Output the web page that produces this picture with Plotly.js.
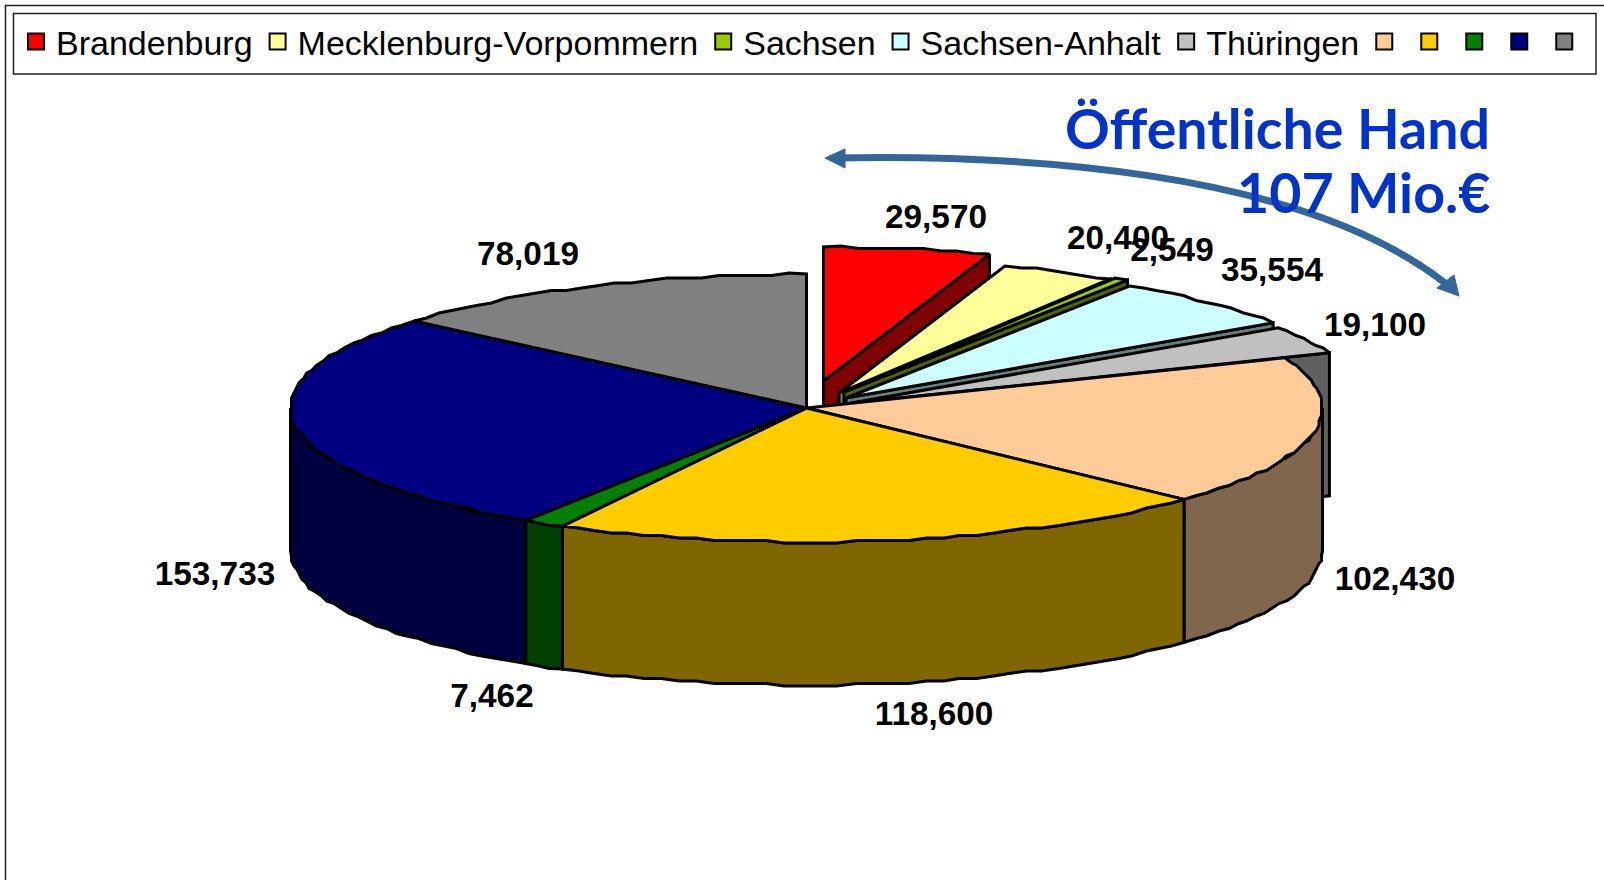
<!DOCTYPE html>
<html><head><meta charset="utf-8">
<script src="https://cdn.plot.ly/plotly-3.0.1.min.js"></script>
<style>html,body{margin:0;padding:0;background:#fff;overflow:hidden}#c{width:1604px;height:880px}</style>
</head><body><div id="c"></div>
<script>
const legendNames = ['Brandenburg','Mecklenburg-Vorpommern','Sachsen','Sachsen-Anhalt','Thüringen','','','','',''];
const values = [29570,20400,2549,35554,19100,102430,118600,7462,153733,78019];
const topColors = ['#FF0000','#FFFF99','#99CC00','#CCFFFF','#C0C0C0','#FFCC99','#FFCC00','#008000','#000080','#808080'];
const sideColors = ['#800000','#80804D','#4D6600','#668080','#606060','#80664D','#806600','#004000','#000040','#404040'];
// top-face centre of every slice (the first five are pulled out of the pie)
const centerX = [823.5,839,844,846,851,806.5,806.5,806.5,806.5,806.5];
const centerY = [381,393,392,398,403,408,408,408,408,408];
const labelX = [936,1118,1172,1272,1375,1395,934,492,215,528];
const labelY = [219.5,240.5,252.5,272.5,327.5,581.5,716.5,698.5,576.5,256.5];
const RX = 516, RY = 134, DEPTH = 143, STEP = 2, GRID = 2.5;
const noteLines = ['Öffentliche Hand','107 Mio.€'];

const total = values.reduce((a,b)=>a+b,0);
let acc = 0;
const starts = [], ends = [];
values.forEach(v=>{starts.push(acc/total*360); acc+=v; ends.push(acc/total*360);});
const rad = d=>d*Math.PI/180;
const snap = (v,base)=>base+Math.round((v-base)/GRID)*GRID;
function arc(i,a0,a1,dy){
  const n = Math.max(1,Math.ceil((a1-a0)/STEP)), xs=[], ys=[];
  for(let k=0;k<=n;k++){const a=rad(a0+(a1-a0)*k/n);
    const x=centerX[i]+RX*Math.sin(a), y=centerY[i]-RY*Math.cos(a)+dy;
    const edge=(k===0||k===n);
    xs.push(edge?x:snap(x,centerX[i])); ys.push(edge?y:snap(y,centerY[i]+dy));}
  return [xs,ys];
}
function poly(xs,ys,fill){
  return {type:'scatter',mode:'lines',x:xs.concat(xs[0]),y:ys.concat(ys[0]),fill:'toself',fillcolor:fill,
    line:{color:'#000',width:3,simplify:false},hoverinfo:'skip',showlegend:false};
}
const traces = [];
function topFace(i){
  const [ax,ay]=arc(i,starts[i],ends[i],0);
  traces.push(poly([centerX[i]].concat(ax),[centerY[i]].concat(ay),topColors[i]));
}
for(let i=0;i<5;i++){
  const [ex,ey]=arc(i,ends[i],ends[i],0);
  const tip=[centerX[i],centerY[i]];
  traces.push(poly([tip[0],ex[0],ex[0],tip[0]],[tip[1],ey[0],ey[0]+DEPTH,tip[1]+DEPTH],sideColors[i]));
  topFace(i);
}
for(let i=5;i<10;i++){
  const a0=Math.max(starts[i],90), a1=Math.min(ends[i],270);
  if(a1<=a0) continue;
  const [ax,ay]=arc(i,a0,a1,0), [bx,by]=arc(i,a0,a1,DEPTH);
  traces.push(poly(ax.concat(bx.reverse()),ay.concat(by.reverse()),sideColors[i]));
}
for(let i=5;i<10;i++) topFace(i);
traces.push({type:'scatter',mode:'text',x:labelX,y:labelY,text:values.map(v=>v.toLocaleString('en-US')),
  textposition:'middle center',textfont:{family:'Liberation Sans, Arial, sans-serif',size:33.3,color:'#000',weight:700},
  hoverinfo:'skip',showlegend:false});
legendNames.forEach((nm,i)=>traces.push({type:'scatter',mode:'markers',x:[null],y:[null],name:nm,
  marker:{symbol:'square',size:19,color:topColors[i],line:{color:'#000',width:2}},showlegend:true,hoverinfo:'skip'}));

const arrowColor='#336699';
const layout={
  width:1604,height:880,margin:{l:0,r:0,t:0,b:0},paper_bgcolor:'#fff',plot_bgcolor:'#fff',
  xaxis:{range:[0,1604],visible:false,fixedrange:true},
  yaxis:{range:[880,0],visible:false,fixedrange:true},
  showlegend:true,
  legend:{orientation:'h',x:16/1604,y:1-13/880,xanchor:'left',yanchor:'top',bgcolor:'rgba(0,0,0,0)',borderwidth:0,
    font:{family:'Liberation Sans, Arial, sans-serif',size:34,color:'#000'},traceorder:'normal'},
  shapes:[
    {type:'path',path:'M 1604 5.5 L 5.5 5.5 L 5.5 880',line:{color:'#222',width:1.5},layer:'below'},
    {type:'rect',x0:13.5,x1:1596,y0:13.5,y1:74,line:{color:'#222',width:1.5},layer:'below'},
    {type:'path',path:'M 835 158 C 1000 155 1300 165 1450 287',line:{color:arrowColor,width:7},layer:'above'},
    {type:'path',path:'M 825 158 L 845 149 L 845 168 Z',fillcolor:arrowColor,line:{color:arrowColor,width:1},layer:'above'},
    {type:'path',path:'M 1459 296 L 1454 275 L 1437 288 Z',fillcolor:arrowColor,line:{color:arrowColor,width:1},layer:'above'}
  ],
  annotations:noteLines.map((t,i)=>({xref:'x',yref:'y',x:1492,y:[150,214][i],xanchor:'right',yanchor:'bottom',yshift:-13,text:t,showarrow:false,
    font:{family:'Lato, sans-serif',size:55.5,color:'#0033CC',weight:700}}))
};
Plotly.newPlot('c',traces,layout,{displayModeBar:false,staticPlot:true});
</script></body></html>
